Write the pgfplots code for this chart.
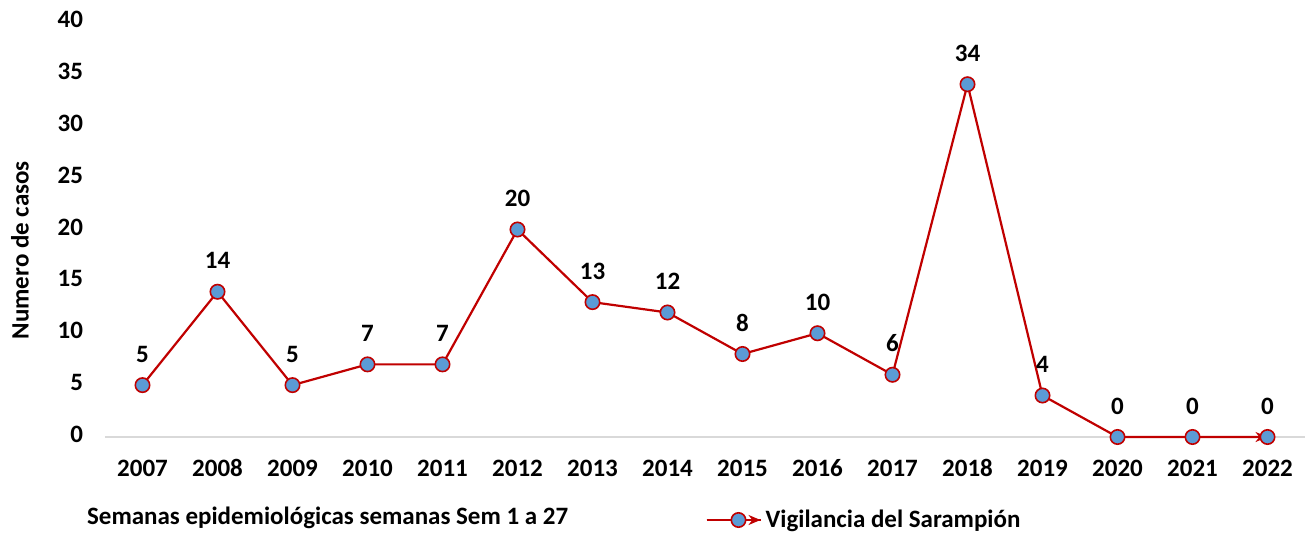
\documentclass[border=0pt]{standalone}
\usepackage{pgfplots}
\pgfplotsset{compat=1.18}
\usepackage{fontspec}
\setmainfont{Carlito}
\usetikzlibrary{arrows.meta}
\definecolor{lred}{HTML}{C00000}
\definecolor{mblue}{HTML}{5B9BD5}
\definecolor{axgray}{HTML}{D9D9D9}
\begin{document}
\begin{tikzpicture}
\useasboundingbox (-52.5pt,-49pt) rectangle (602pt,218.5pt);
\begin{axis}[
  scale only axis, width=600pt, height=207.5pt,
  xmin=-0.5, xmax=15.5, ymin=0, ymax=40,
  axis x line*=bottom, axis y line*=left,
  x axis line style={draw=axgray, line width=0.9pt, -},
  y axis line style={draw=none},
  xtick={0,...,15},
  xticklabels={2007,2008,2009,2010,2011,2012,2013,2014,2015,2016,2017,2018,2019,2020,2021,2022},
  ytick={0,5,...,40},
  major tick length=0pt,
  tick style={draw=none},
  /pgf/number format/assume math mode=true,
  typeset ticklabels with strut,
  ticklabel style={font=\fontsize{12.5}{14}\selectfont\bfseries},
  xticklabel style={yshift=-6.5pt},
  yticklabel style={xshift=-7.5pt},
  clip=false,
  legend style={at={(0.5,-0.2)}, anchor=west, draw=none, fill=none,
    font=\fontsize{12.5}{14}\selectfont\bfseries, inner sep=0pt},
  legend image code/.code={\draw[#1] (0pt,0pt) -- (27pt,0pt);
    \draw[mark repeat=2,mark phase=2,#1,-] plot coordinates {(0pt,0pt)(16pt,0pt)(27pt,0pt)};},
  nodes near coords,
  every node near coord/.append style={font=\fontsize{12.5}{14}\selectfont\bfseries, anchor=south, inner sep=0pt, yshift=11pt, text=black},
]
\addplot[color=lred, line width=1.1pt, -{Stealth[length=6pt,width=5pt]}, mark=*, mark size=3.6pt,
  mark options={fill=mblue, draw=lred, line width=0.8pt, solid}]
  coordinates {(0,5)(1,14)(2,5)(3,7)(4,7)(5,20)(6,13)(7,12)(8,8)(9,10)(10,6)(11,34)(12,4)(13,0)(14,0)(15,0)};
\addlegendentry{Vigilancia del Sarampión}
\node[font=\fontsize{12.5}{14}\selectfont\bfseries, rotate=90, anchor=center] at (axis description cs:-0.0708,0.45) {Numero de casos};
\node[font=\fontsize{12.5}{14}\selectfont\bfseries, anchor=west] at (axis description cs:-0.0208,-0.195) {Semanas epidemiológicas semanas Sem 1 a 27};
\end{axis}
\end{tikzpicture}
\end{document}
